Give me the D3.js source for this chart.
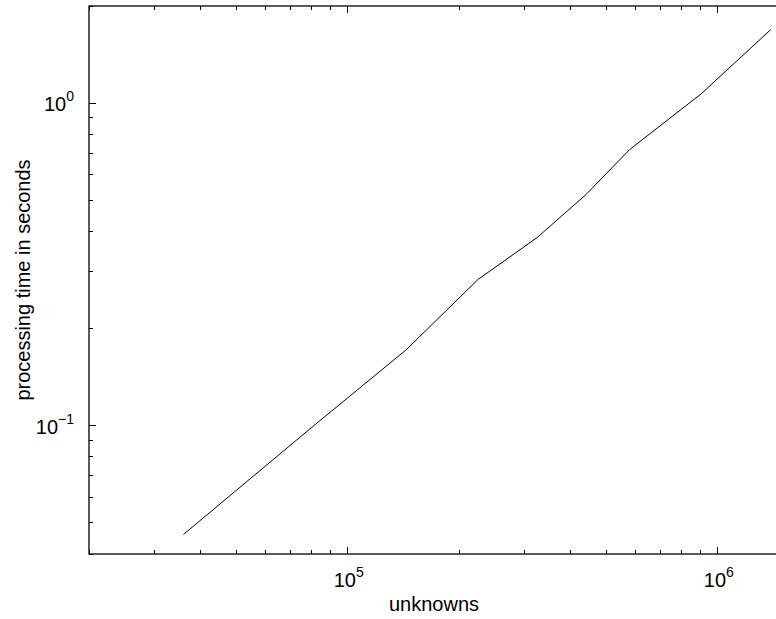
<!DOCTYPE html>
<html>
<head>
<meta charset="utf-8">
<script src="https://cdn.jsdelivr.net/npm/d3@7"></script>
<style>
  html, body { margin: 0; padding: 0; background: #fff; }
  svg { display: block; }
  text { font-family: "Liberation Sans", Arial, Helvetica, sans-serif; fill: #000; }
</style>
</head>
<body>
<svg id="chart" width="776" height="619"></svg>
<script>
// Measured timings: problem size (unknowns) vs processing time (s)
const unknowns = [36000, 81000, 144000, 225000, 325000, 440000, 578000, 903000, 1390000];
const seconds  = [0.046, 0.100, 0.172, 0.284, 0.383, 0.520, 0.718, 1.070, 1.690];

// Axis ranges and decade labels
const xDomain = [2e4, 1.5e6];
const yDomain = [0.04, 2];
const xDecades = [5, 6];
const yDecades = [0, -1];
const xLabel = "unknowns";
const yLabel = "processing time in seconds";

const W = 776, H = 619;
const plot = { left: 89, right: 783, top: 6, bottom: 554 };

const svg = d3.select("#chart");
svg.append("rect").attr("width", W).attr("height", H).attr("fill", "#fff");

const x = d3.scaleLog().domain(xDomain).range([plot.left, plot.right]);
const y = d3.scaleLog().domain(yDomain).range([plot.bottom, plot.top]);

// All ticks (major at decades, minor at 2..9)
function logTicks(domain) {
  const out = [];
  const lo = Math.floor(Math.log10(domain[0])), hi = Math.ceil(Math.log10(domain[1]));
  for (let e = lo; e <= hi; e++) {
    for (let m = 1; m <= 9; m++) {
      const v = m * Math.pow(10, e);
      if (v >= domain[0] * 0.9999 && v <= domain[1] * 1.0001) out.push({ v, major: m === 1 });
    }
  }
  return out;
}
const xt = logTicks(xDomain), yt = logTicks(yDomain);
const majorLen = 7, minorLen = 4;

const g = svg.append("g");

// Ticks pointing inward on all four sides
const tickStroke = "#000";
g.selectAll("line.xb").data(xt).join("line")
  .attr("x1", d => x(d.v)).attr("x2", d => x(d.v))
  .attr("y1", plot.bottom).attr("y2", d => plot.bottom - (d.major ? majorLen : minorLen))
  .attr("stroke", tickStroke).attr("stroke-width", 1).attr("shape-rendering", "crispEdges");
g.selectAll("line.xt").data(xt).join("line")
  .attr("x1", d => x(d.v)).attr("x2", d => x(d.v))
  .attr("y1", plot.top).attr("y2", d => plot.top + (d.major ? majorLen : minorLen))
  .attr("stroke", tickStroke).attr("stroke-width", 1).attr("shape-rendering", "crispEdges");
g.selectAll("line.yl").data(yt).join("line")
  .attr("y1", d => y(d.v)).attr("y2", d => y(d.v))
  .attr("x1", plot.left).attr("x2", d => plot.left + (d.major ? majorLen : minorLen))
  .attr("stroke", tickStroke).attr("stroke-width", 1).attr("shape-rendering", "crispEdges");
g.selectAll("line.yr").data(yt).join("line")
  .attr("y1", d => y(d.v)).attr("y2", d => y(d.v))
  .attr("x1", plot.right).attr("x2", d => plot.right - (d.major ? majorLen : minorLen))
  .attr("stroke", tickStroke).attr("stroke-width", 1).attr("shape-rendering", "crispEdges");

// Axes box
g.append("rect")
  .attr("x", plot.left).attr("y", plot.top)
  .attr("width", plot.right - plot.left).attr("height", plot.bottom - plot.top)
  .attr("fill", "none").attr("stroke", "#000").attr("stroke-width", 1.3);

// Data line
const line = d3.line().x((d, i) => x(unknowns[i])).y(d => y(d));
g.append("path").datum(seconds)
  .attr("d", line)
  .attr("fill", "none").attr("stroke", "#000").attr("stroke-width", 1);

// Tick labels: 10 with superscript exponent
const baseSize = 20, expSize = 14;
xDecades.forEach(e => {
  const t = g.append("text")
    .attr("x", x(Math.pow(10, e)) + 1).attr("y", plot.bottom + 33)
    .attr("text-anchor", "middle").attr("font-size", baseSize);
  t.append("tspan").text("10");
  t.append("tspan").attr("font-size", expSize).attr("dy", -10).text(String(e));
});
yDecades.forEach(e => {
  const t = g.append("text")
    .attr("x", plot.left - 15).attr("y", y(Math.pow(10, e)) + 8)
    .attr("text-anchor", "end").attr("font-size", baseSize);
  t.append("tspan").text("10");
  t.append("tspan").attr("font-size", expSize).attr("dy", -10).text(e < 0 ? "\u2212" + Math.abs(e) : String(e));
});

// Axis titles
g.append("text")
  .attr("x", (plot.left + plot.right) / 2 - 2).attr("y", 611)
  .attr("text-anchor", "middle").attr("font-size", 20)
  .text(xLabel);
g.append("text")
  .attr("transform", `translate(30, ${(plot.top + plot.bottom) / 2}) rotate(-90)`)
  .attr("text-anchor", "middle").attr("font-size", 20)
  .text(yLabel);
</script>
</body>
</html>
